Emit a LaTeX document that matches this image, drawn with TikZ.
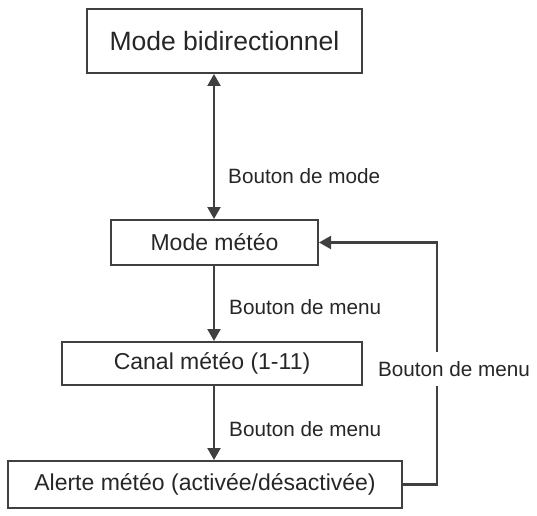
\documentclass[tikz,border=0pt]{standalone}
\usepackage{fontspec}
\setmainfont{Liberation Sans}
\usetikzlibrary{arrows.meta}

\begin{document}
\begin{tikzpicture}[x=1pt, y=1pt,
        modebox/.style={draw=black!75, line width=2pt, text=black!85, inner sep=0pt},
        btnlabel/.style={text=black!85, font=\fontsize{20.7}{24}\selectfont, inner sep=3pt},
        link/.style={draw=black!75, line width=2.2pt},
        tip/.style={-{Triangle[width=13pt,length=12pt]}}]
        \useasboundingbox (0, 0) rectangle (537, 515);

        \node[modebox, minimum width=275pt, minimum height=64pt, font=\fontsize{26.5}{30}\selectfont]
            at (224.5, 474)   (bidir)   {Mode bidirectionnel};
        \node[modebox, minimum width=207pt, minimum height=45pt, font=\fontsize{23}{27}\selectfont]
            at (214.5, 272.5) (meteo)   {Mode météo};
        \node[modebox, minimum width=300pt, minimum height=43pt, font=\fontsize{23}{27}\selectfont]
            at (212, 151.5)   (canal)   {Canal météo (1-11)};
        \node[modebox, minimum width=394pt, minimum height=47pt, font=\fontsize{23}{27}\selectfont]
            at (205, 30.5)    (alerte)  {Alerte météo (activée/désactivée)};

        \node[btnlabel, anchor=west] at (225, 339) (mode)  {Bouton de mode};
        \node[btnlabel, anchor=west] at (226, 208) (menu1) {Bouton de menu};
        \node[btnlabel, anchor=west] at (226, 86)  (menu2) {Bouton de menu};
        \node[btnlabel, minimum height=34pt] at (454, 146) (menu3) {Bouton de menu};

        \coordinate (stem) at (214, 0);
        \coordinate (back) at (437, 0);

        \draw[link, {Triangle[width=13pt,length=12pt]}-{Triangle[width=13pt,length=12pt]}]
            (bidir.south -| stem) -- (meteo.north -| stem);
        \draw[link, tip] (meteo.south -| stem) -- (canal.north -| stem);
        \draw[link, tip] (canal.south -| stem) -- (alerte.north -| stem);
        \draw[link] (alerte.east) -| (back |- menu3.south);
        \draw[link, tip] (back |- menu3.north) |- (meteo.east);
    \end{tikzpicture}
\end{document}
